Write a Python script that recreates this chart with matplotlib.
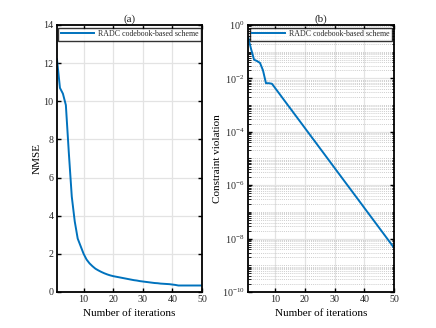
import numpy as np
import matplotlib
matplotlib.use('Agg')
import matplotlib.pyplot as plt
from matplotlib.ticker import LogLocator, FixedLocator, NullFormatter

plt.rcParams['font.family'] = ['Liberation Serif', 'DejaVu Serif']
plt.rcParams['mathtext.fontset'] = 'custom'
plt.rcParams['mathtext.rm'] = 'Liberation Serif'
plt.rcParams['mathtext.it'] = 'Liberation Serif:italic'
plt.rcParams['text.color'] = '#262626'
plt.rcParams['xtick.labelcolor'] = '#262626'
plt.rcParams['ytick.labelcolor'] = '#262626'

# data
iterations = list(range(1, 51))
nmse = [12.2, 10.7, 10.4, 9.8, 7.3, 5.0, 3.7, 2.8, 2.4, 2.0,
        1.7, 1.5, 1.35, 1.22, 1.13, 1.05, 0.98, 0.92, 0.87, 0.83,
        0.80, 0.77, 0.74, 0.71, 0.68, 0.65, 0.62, 0.60, 0.57, 0.55,
        0.53, 0.51, 0.49, 0.47, 0.46, 0.44, 0.43, 0.42, 0.41, 0.39,
        0.37, 0.34, 0.34, 0.34, 0.34, 0.34, 0.34, 0.34, 0.34, 0.34]
violation = [3.55e-1, 1.26e-1, 5.01e-2, 4.47e-2, 3.8e-2, 2.0e-2, 6.6e-3, 6.6e-3, 6.3e-3, 4.47e-3,
             3.16e-3, 2.24e-3, 1.58e-3, 1.12e-3, 7.94e-4, 5.62e-4, 3.98e-4, 2.82e-4, 2.0e-4, 1.41e-4,
             1.0e-4, 7.08e-5, 5.01e-5, 3.55e-5, 2.51e-5, 1.78e-5, 1.26e-5, 8.91e-6, 6.31e-6, 4.47e-6,
             3.16e-6, 2.24e-6, 1.58e-6, 1.12e-6, 7.94e-7, 5.62e-7, 3.98e-7, 2.82e-7, 2.0e-7, 1.41e-7,
             1.0e-7, 7.08e-8, 5.01e-8, 3.55e-8, 2.51e-8, 1.78e-8, 1.26e-8, 8.91e-9, 6.31e-9, 4.47e-9]
label = 'RADC codebook-based scheme'
x_ticks = [10, 20, 30, 40, 50]
nmse_ticks = [0, 2, 4, 6, 8, 10, 12, 14]
viol_ticks = [1e0, 1e-2, 1e-4, 1e-6, 1e-8, 1e-10]

BLUE = '#0072BD'
GRID = '#e3e3e3'

fig = plt.figure(figsize=(4.36, 3.28), dpi=100)
ax1 = fig.add_axes([0.1307, 0.1098, 0.3326, 0.814])
ax2 = fig.add_axes([0.569, 0.1098, 0.335, 0.814])


def style(ax):
    ax.tick_params(direction='in', which='both', top=True, right=True,
                   labelsize=7.2, length=3, width=1.0, pad=2.5)
    ax.tick_params(which='minor', length=1.8, width=0.6)
    for s in ax.spines.values():
        s.set_linewidth(1.3)
    ax.set_axisbelow(True)
    ax.set_xlim(1, 50)
    ax.set_xticks(x_ticks)
    ax.set_xlabel('Number of iterations', fontsize=8, labelpad=3)


# (a) NMSE
ax1.plot(iterations, nmse, color=BLUE, lw=1.4, label=label)
ax1.set_ylim(0, 14)
ax1.set_yticks(nmse_ticks)
ax1.grid(True, color=GRID, lw=0.9)
style(ax1)
ax1.set_ylabel('NMSE', fontsize=8, labelpad=1)
ax1.set_title('(a)', fontsize=8, pad=2)
leg = ax1.legend(loc='upper center', fontsize=5.7, frameon=True, fancybox=False,
                 edgecolor='black', handlelength=4.2, borderpad=0.3,
                 borderaxespad=0.35, handletextpad=0.5)
leg.get_frame().set_linewidth(1.0)

# (b) constraint violation
ax2.semilogy(iterations, violation, color=BLUE, lw=1.4, label=label)
ax2.set_ylim(1e-10, 1e0)
ax2.yaxis.set_major_locator(FixedLocator(viol_ticks))
ax2.yaxis.set_minor_locator(LogLocator(base=10, subs=np.arange(1, 10), numticks=20))
ax2.yaxis.set_minor_formatter(NullFormatter())
ax2.grid(True, which='major', color=GRID, lw=0.9)
ax2.grid(True, which='minor', axis='y', color='#bdbdbd', lw=0.5, ls=(0, (1.5, 1.5)))
style(ax2)
ax2.set_ylabel('Constraint violation', fontsize=8, labelpad=0)
ax2.set_title('(b)', fontsize=8, pad=2)
leg = ax2.legend(loc='upper center', fontsize=5.7, frameon=True, fancybox=False,
                 edgecolor='black', handlelength=4.2, borderpad=0.3,
                 borderaxespad=0.35, handletextpad=0.5)
leg.get_frame().set_linewidth(1.0)

fig.savefig('out.png', dpi=100)
